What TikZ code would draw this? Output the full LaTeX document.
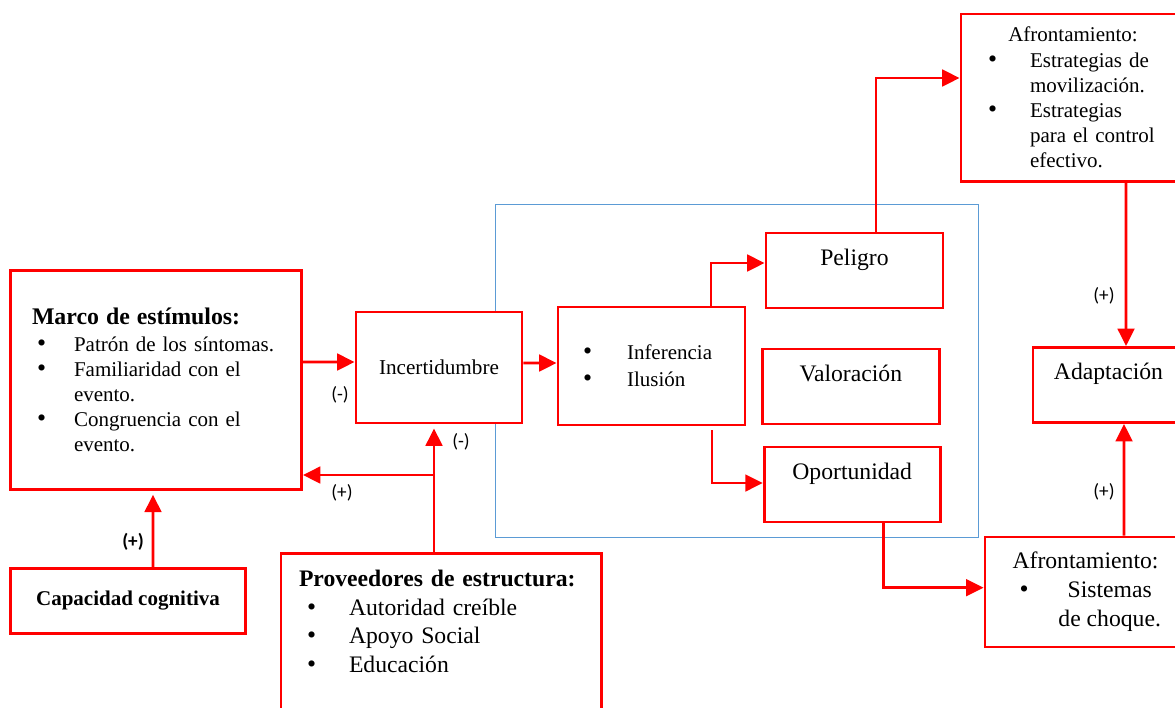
\documentclass[tikz,border=0pt]{standalone}
\usepackage{fontspec}
\setmainfont{Liberation Serif}
\newfontfamily\carlito{Carlito}
\usetikzlibrary{arrows.meta}
\definecolor{rojo}{RGB}{255,0,0}
\definecolor{azul}{RGB}{91,155,213}
\newcommand{\bol}{\smash{\fontsize{15.5}{15.5}\selectfont\textbullet}}
\newcommand{\vin}[1]{\makebox[#1][l]{\bol}}

\begin{document}
\begin{tikzpicture}[x=0.6pt,y=-0.6pt,
	caja/.style={draw=rojo,line width=1.7pt,fill=white,inner sep=0pt},
	alto/.style={minimum height=45pt,text height=19.2pt,text depth=25.8pt,font=\fontsize{14.2}{17}\selectfont},
	flecha/.style={rojo,line width=1.7pt,-{Triangle[length=10.5pt,width=10pt]}},
	signo/.style={font=\carlito\fontsize{11.5}{13}\selectfont,inner sep=0pt}]
	\useasboundingbox (0,0) rectangle (1175,707);
	\clip (0,0) rectangle (1175,707);
	\draw[azul,line width=0.6pt] (495,204) rectangle (978,537.5);
	
	\node[caja,minimum width=174.6pt,minimum height=131.4pt,inner xsep=12.9pt,text width=148.8pt,align=left,font=\fontsize{12.6}{15}\selectfont] (marco) at (156,379.75)
	{{\fontsize{14.3}{17}\bfseries Marco de estímulos:}\\[1.2pt]
		\hspace*{3pt}\vin{22.2pt}Patrón de los síntomas.\\
		\hspace*{3pt}\vin{22.2pt}Familiaridad con el\\
		\hspace*{25.2pt}evento.\\
		\hspace*{3pt}\vin{22.2pt}Congruencia con el\\
		\hspace*{25.2pt}evento.};
	\node[caja,minimum width=140.7pt,minimum height=38.7pt,font=\fontsize{12.6}{15}\selectfont\bfseries] (cap) at (128,601) {Capacidad cognitiva};
	\node[caja,anchor=north,minimum width=192.3pt,inner xsep=10.8pt,inner ysep=10pt,text width=170.7pt,align=left,font=\fontsize{14.2}{17.2}\selectfont] (prov) at (441.25,552)
	{\textbf{Proveedores de estructura:}\\
		\hspace*{4.8pt}\vin{25.2pt}Autoridad creíble\\
		\hspace*{4.8pt}\vin{25.2pt}Apoyo Social\\
		\hspace*{4.8pt}\vin{25.2pt}Educación\\[40pt]\mbox{}};
	\node[caja,minimum width=99.6pt,minimum height=66.6pt,font=\fontsize{12.7}{15}\selectfont] (incert) at (439,367.5) {Incertidumbre};
	\node[caja,minimum width=112.2pt,minimum height=70.8pt,inner xsep=15pt,text width=82.2pt,align=left,font=\fontsize{12.6}{16.2}\selectfont] (infer) at (651.5,366)
	{\vin{26.4pt}Inferencia\\ \vin{26.4pt}Ilusión};
	\node[caja,alto,minimum width=106.2pt] (peligro) at (854.5,270.5) {Peligro};
	\node[caja,alto,minimum width=106.2pt] (valor) at (850.8,386.5) {Valoración};
	\node[caja,alto,minimum width=105.6pt] (opor) at (852.2,484.5) {Oportunidad};
	\node[caja,minimum width=134.4pt,minimum height=100.5pt,inner xsep=16.2pt,text width=102pt,align=left,font=\fontsize{12.6}{15}\selectfont] (aft) at (1073,97.75)
	{\makebox[102pt][c]{Afrontamiento:}\\[0.6pt]
		\vin{25.2pt}Estrategias de\\
		\hspace*{25.2pt}movilización.\\
		\vin{25.2pt}Estrategias\\
		\hspace*{25.2pt}para el control\\
		\hspace*{25.2pt}efectivo.};
	\node[caja,alto,minimum width=90.6pt] (adapt) at (1108.5,385) {Adaptación};
	\node[caja,minimum width=120.6pt,minimum height=66pt,align=center,font=\fontsize{14.2}{17.4}\selectfont] (afb) at (1085.5,592)
	{Afrontamiento:\\
		\hspace*{29pt}\llap{\bol\hspace{23.4pt}}Sistemas\\
		\hspace*{29pt}de choque.};
	
	\coordinate (rama) at (434,475);
	\draw[flecha] ([yshift=10.65pt]marco.east) -- ([yshift=3.3pt]incert.west);
	\draw[flecha] ([yshift=2.7pt]incert.east) -- ([yshift=1.8pt]infer.west);
	\draw[flecha] ([xshift=35.7pt]infer.north) |- ([yshift=4.5pt]peligro.west);
	\draw[flecha] ([xshift=36.3pt,yshift=-2.4pt]infer.south) |- ([yshift=0.9pt]opor.west);
	\draw[flecha] ([xshift=12.9pt]peligro.north) |- ([yshift=11.85pt]aft.west);
	\draw[flecha] ([xshift=18.6pt]opor.south) |- ([yshift=2.6pt]afb.west);
	\draw[flecha] ([xshift=31.8pt]aft.south) -- ([xshift=10.5pt]adapt.north);
	\draw[flecha] ([xshift=23.1pt]afb.north) -- ([xshift=9.3pt]adapt.south);
	\draw[flecha,shorten >=2.4pt] ([xshift=15pt]cap.north) -- ([xshift=-1.8pt]marco.south);
	\draw[flecha,shorten >=2.4pt] (rama |- prov.north) -- (rama |- incert.south);
	\draw[flecha] (rama) -- (rama -| marco.east);
	
	\node[signo] (s1) at (340,395) {(-)};
	\node[signo] (s2) at (461,442) {(-)};
	\node[signo] (s3) at (342,493) {(+)};
	\node[signo,font=\carlito\fontsize{11.5}{13}\selectfont\bfseries] (s4) at (133,542) {(+)};
	\node[signo] (s5) at (1104,296) {(+)};
	\node[signo] (s6) at (1104,492) {(+)};
\end{tikzpicture}
\end{document}
